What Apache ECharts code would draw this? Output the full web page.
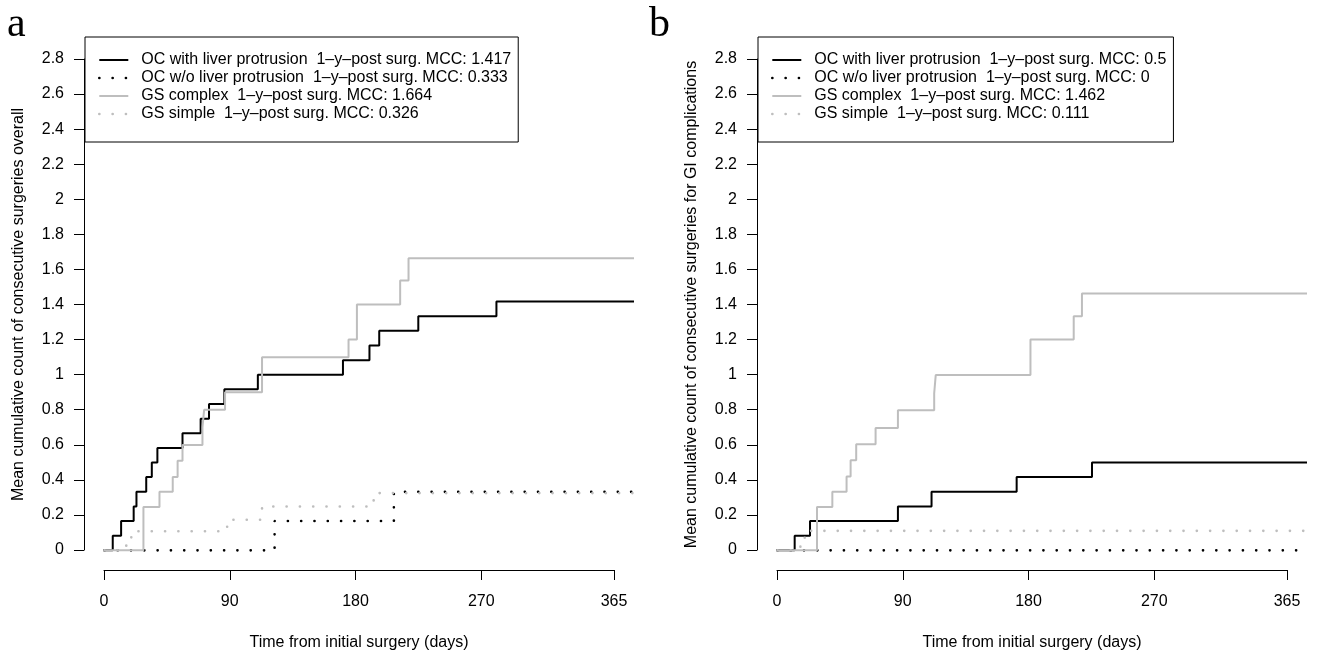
<!DOCTYPE html>
<html>
<head>
<meta charset="utf-8">
<script src="https://cdn.jsdelivr.net/npm/echarts@6/dist/echarts.min.js"></script>
<style>
  html, body { margin: 0; padding: 0; background: #fff; }
  #chart { width: 1318px; height: 657px; }
</style>
</head>
<body>
<div id="chart"></div>
<script>
// ---- data (days, mean cumulative count) ----
// panel a: surgeries overall
var ocLiverA_t = [0, 6, 12, 21, 23, 30, 34, 38, 56, 69, 75, 86, 110, 171, 190, 197, 225, 281, 379.6];
var ocLiverA_v = [0, 0.083, 0.167, 0.25, 0.333, 0.417, 0.5, 0.583, 0.667, 0.75, 0.833, 0.917, 1.0, 1.083, 1.167, 1.25, 1.333, 1.417, 1.417];
var ocNoLiverA_t = [0, 122, 207.5, 379.6];
var ocNoLiverA_v = [0, 0.167, 0.333, 0.333];
var gsComplexA_t = [0, 28, 39.5, 49, 52.5, 56, 70.3, 71.5, 86.5, 113, 175, 181, 212, 218, 379.6];
var gsComplexA_v = [0, 0.247, 0.333, 0.418, 0.51, 0.6, 0.7, 0.8, 0.9, 1.1, 1.2, 1.4, 1.536, 1.664, 1.664];
var gsSimpleA_t = [0, 15.7, 19.3, 88, 113, 193, 379.6];
var gsSimpleA_v = [0, 0.054, 0.109, 0.174, 0.25, 0.326, 0.326];

// panel b: surgeries for GI complications
var ocLiverB_t = [0, 12.4, 23.4, 86.4, 110.5, 171.5, 225.5, 379.6];
var ocLiverB_v = [0, 0.083, 0.167, 0.25, 0.333, 0.417, 0.5, 0.5];
var ocNoLiverB_t = [0, 379.6];
var ocNoLiverB_v = [0, 0];
var gsComplexB_t = [0, 28.4, 39.4, 49.6, 52.5, 56.5, 70.4, 86.4, 112.4, 113.5, 181.4, 212.4, 218.3, 379.6];
var gsComplexB_v = [0, 0.247, 0.333, 0.42, 0.513, 0.604, 0.697, 0.798, 0.894, 0.998, 1.2, 1.333, 1.462, 1.462];
var gsSimpleB_t = [0, 16.5, 19.6, 379.6];
var gsSimpleB_v = [0, 0.056, 0.111, 0.111];

var namesA = [
    'OC with liver protrusion  1\u2013y\u2013post surg. MCC: 1.417',
    'OC w/o liver protrusion  1\u2013y\u2013post surg. MCC: 0.333',
    'GS complex  1\u2013y\u2013post surg. MCC: 1.664',
    'GS simple  1\u2013y\u2013post surg. MCC: 0.326'
];
var namesB = [
    'OC with liver protrusion  1\u2013y\u2013post surg. MCC: 0.5',
    'OC w/o liver protrusion  1\u2013y\u2013post surg. MCC: 0',
    'GS complex  1\u2013y\u2013post surg. MCC: 1.462',
    'GS simple  1\u2013y\u2013post surg. MCC: 0.111'
];
var xTicks = [0, 90, 180, 270, 365];
var yTitleA = 'Mean cumulative count of consecutive surgeries overall';
var yTitleB = 'Mean cumulative count of consecutive surgeries for GI complications';
var xTitle = 'Time from initial surgery (days)';

// ---- helpers ----
var FONT = 'Liberation Sans';
var GRAY = '#bebebe';

function pairs(t, v) {
    var out = [];
    for (var i = 0; i < t.length; i++) out.push([t[i], v[i]]);
    return out;
}

var chart = echarts.init(document.getElementById('chart'));

var grids = [], xAxes = [], yAxes = [], series = [], legends = [];

// R-like plot: data region with 4% padding, detached axes
function addPanel(dx, names, yTitle, lines) {
    var g0 = grids.length;
    // data region
    grids.push({ left: 84 + dx, top: 39, width: 550, height: 531 });
    xAxes.push({ gridIndex: g0, type: 'value', min: -14.6, max: 379.6, show: false });
    yAxes.push({ gridIndex: g0, type: 'value', min: -0.112, max: 2.912, show: false });
    // x axis only spanning 0..365
    grids.push({ left: 104 + dx, top: 39, width: 510, height: 531 });
    xAxes.push({
        gridIndex: g0 + 1, type: 'value', min: 0, max: 365, position: 'bottom',
        axisLine: { show: true, lineStyle: { color: '#000', width: 1 } },
        axisTick: { show: true, inside: false, length: 10, customValues: xTicks, lineStyle: { color: '#000' } },
        axisLabel: { customValues: xTicks, margin: 24, fontSize: 16, color: '#000', fontFamily: FONT },
        splitLine: { show: false },
        name: xTitle, nameLocation: 'middle', nameGap: 65,
        nameTextStyle: { fontSize: 16, color: '#000', fontFamily: FONT }
    });
    yAxes.push({ gridIndex: g0 + 1, type: 'value', min: 0, max: 1, show: false });
    // y axis only spanning 0..2.8
    grids.push({ left: 84 + dx, top: 59, width: 550, height: 491 });
    xAxes.push({ gridIndex: g0 + 2, type: 'value', min: 0, max: 1, show: false });
    yAxes.push({
        gridIndex: g0 + 2, type: 'value', min: 0, max: 2.8, interval: 0.2, position: 'left',
        axisLine: { show: true, lineStyle: { color: '#000', width: 1 } },
        axisTick: { show: true, inside: false, length: 10, lineStyle: { color: '#000' } },
        axisLabel: { margin: 20, fontSize: 16, color: '#000', fontFamily: FONT },
        splitLine: { show: false },
        name: yTitle, nameLocation: 'middle', nameGap: 57,
        nameTextStyle: { fontSize: 16, color: '#000', fontFamily: FONT }
    });

    var styles = [
        { color: '#000', width: 2, type: 'solid' },
        { color: '#000', width: 2.6, type: [0.1, 13.2], cap: 'round' },
        { color: GRAY, width: 2, type: 'solid' },
        { color: GRAY, width: 2.6, type: [0.1, 13.2], cap: 'round' }
    ];
    for (var i = 0; i < 4; i++) {
        series.push({
            name: names[i],
            type: 'line',
            xAxisIndex: g0, yAxisIndex: g0,
            step: 'end',
            symbol: 'none',
            data: lines[i],
            lineStyle: styles[i],
            itemStyle: { color: styles[i].color },
            z: 2 + i
        });
    }

    legends.push({
        left: 85 + dx, top: 37,
        orient: 'vertical',
        data: names.map(function (n, i) {
            return { name: n, lineStyle: styles[i], itemStyle: { opacity: 0 } };
        }),
        itemWidth: 29, itemHeight: 14, itemGap: 2,
        itemStyle: { opacity: 0 },
        padding: [15, 7, 20, 13],
        borderColor: '#000', borderWidth: 1, borderRadius: 0,
        backgroundColor: '#fff',
        selectedMode: false,
        textStyle: { fontSize: 16, lineHeight: 14, color: '#000', fontFamily: FONT, padding: [0, 0, 0, 8] }
    });
}

addPanel(0, namesA, yTitleA, [
    pairs(ocLiverA_t, ocLiverA_v),
    pairs(ocNoLiverA_t, ocNoLiverA_v),
    pairs(gsComplexA_t, gsComplexA_v),
    pairs(gsSimpleA_t, gsSimpleA_v)
]);
addPanel(673, namesB, yTitleB, [
    pairs(ocLiverB_t, ocLiverB_v),
    pairs(ocNoLiverB_t, ocNoLiverB_v),
    pairs(gsComplexB_t, gsComplexB_v),
    pairs(gsSimpleB_t, gsSimpleB_v)
]);

var option = {
    animation: false,
    backgroundColor: '#fff',
    textStyle: { fontFamily: FONT },
    title: [
        { text: 'a', left: 7, top: 4, padding: 0,
          textStyle: { fontFamily: 'Liberation Serif', fontSize: 42, fontWeight: 'normal', color: '#000' } },
        { text: 'b', left: 649, top: 4, padding: 0,
          textStyle: { fontFamily: 'Liberation Serif', fontSize: 42, fontWeight: 'normal', color: '#000' } }
    ],
    legend: legends,
    grid: grids,
    xAxis: xAxes,
    yAxis: yAxes,
    series: series
};
chart.setOption(option);
</script>
</body>
</html>
